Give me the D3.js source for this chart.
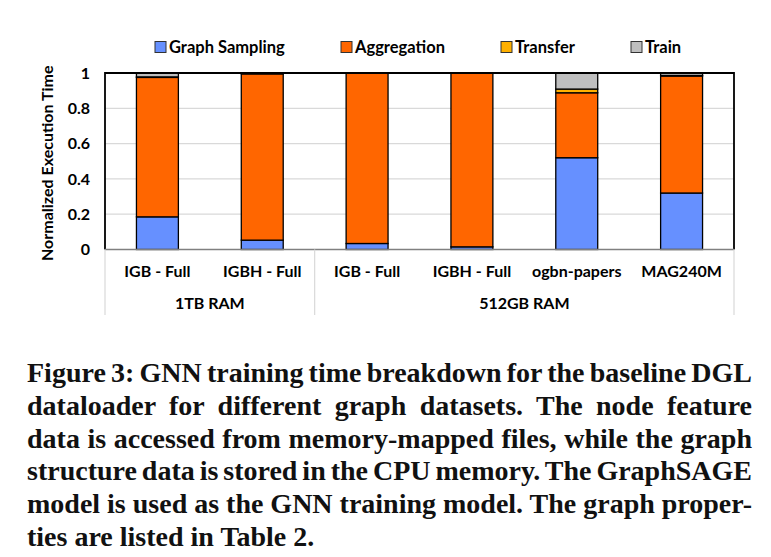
<!DOCTYPE html>
<html>
<head>
<meta charset="utf-8">
<script src="https://cdn.jsdelivr.net/npm/d3@7"></script>
<style>
  html, body { margin: 0; padding: 0; background: #fff; }
  svg { display: block; }
</style>
</head>
<body>
<svg id="chart" width="771" height="557"></svg>
<script>
// ---------------- data ----------------
const categories = ["IGB - Full", "IGBH - Full", "IGB - Full", "IGBH - Full", "ogbn-papers", "MAG240M"];
const groups = ["1TB RAM", "512GB RAM"];
const groupSizes = [2, 4];
const seriesNames = ["Graph Sampling", "Aggregation", "Transfer", "Train"];
const sampling    = [0.185, 0.053, 0.034, 0.015, 0.520, 0.320];
const aggregation = [0.790, 0.942, 0.966, 0.985, 0.368, 0.663];
const transfer    = [0.003, 0.000, 0.000, 0.000, 0.021, 0.003];
const train       = [0.022, 0.005, 0.000, 0.000, 0.091, 0.014];
const yTicks = [0, 0.2, 0.4, 0.6, 0.8, 1];
const yTickLabels = ["0", "0.2", "0.4", "0.6", "0.8", "1"];
const yTitle = "Normalized Execution Time";
const captionLines = [
  "Figure 3: GNN training time breakdown for the baseline DGL",
  "dataloader for different graph datasets. The node feature",
  "data is accessed from memory-mapped files, while the graph",
  "structure data is stored in the CPU memory. The GraphSAGE",
  "model is used as the GNN training model. The graph proper-",
  "ties are listed in Table 2."
];

// ---------------- styles ----------------
const colors = ["#6690FF", "#FF6600", "#FFB000", "#BFBFBF"];
const font = "Lato, 'Open Sans', sans-serif";
const serif = "'Liberation Serif', 'Times New Roman', serif";

const svg = d3.select("#chart");
const plot = { left: 105, right: 734, top: 73, bottom: 249.5 };

const x = d3.scaleBand()
  .domain(d3.range(categories.length))
  .range([plot.left, plot.right])
  .paddingInner(0.6).paddingOuter(0.3);
const y = d3.scaleLinear().domain([0, 1]).range([plot.bottom, plot.top]);

// gridlines
svg.append("g").selectAll("line").data(yTicks.filter(d => d > 0 && d < 1)).join("line")
  .attr("x1", plot.left).attr("x2", plot.right)
  .attr("y1", d => y(d)).attr("y2", d => y(d))
  .attr("stroke", "#d9d9d9").attr("stroke-width", 1.2);

// stacked bars
const rows = categories.map((c, i) => ({
  i, "Graph Sampling": sampling[i], "Aggregation": aggregation[i],
  "Transfer": transfer[i], "Train": train[i]
}));
const stacked = d3.stack().keys(seriesNames)(rows);
svg.append("g").selectAll("g").data(stacked).join("g")
  .attr("fill", (d, k) => colors[k])
  .selectAll("rect").data(d => d.filter(p => p[1] - p[0] > 0)).join("rect")
  .attr("x", d => x(d.data.i))
  .attr("width", x.bandwidth())
  .attr("y", d => y(d[1]))
  .attr("height", d => y(d[0]) - y(d[1]))
  .attr("stroke", "#000").attr("stroke-width", 1.3);

// plot frame
svg.append("path")
  .attr("d", `M${plot.left},${plot.bottom}V${plot.top}H${plot.right}V${plot.bottom}`)
  .attr("fill", "none").attr("stroke", "#000").attr("stroke-width", 1.8);
svg.append("line")
  .attr("x1", plot.left).attr("x2", plot.right)
  .attr("y1", plot.bottom).attr("y2", plot.bottom)
  .attr("stroke", "#808080").attr("stroke-width", 1.6);

// y axis tick labels
svg.append("g").selectAll("text").data(yTicks).join("text")
  .attr("x", 90).attr("y", d => y(d)).attr("dy", "0.35em")
  .attr("text-anchor", "end")
  .attr("font-family", font).attr("font-weight", 700).attr("font-size", 16)
  .text((d, i) => yTickLabels[i]);

// y title
svg.append("text")
  .attr("transform", `translate(53,${(plot.top + plot.bottom) / 2 + 2}) rotate(-90)`)
  .attr("text-anchor", "middle")
  .attr("font-family", font).attr("font-weight", 700).attr("font-size", 16)
  .text(yTitle);

// category labels
svg.append("g").selectAll("text").data(categories).join("text")
  .attr("x", (d, i) => x(i) + x.bandwidth() / 2).attr("y", 277)
  .attr("text-anchor", "middle")
  .attr("font-family", font).attr("font-weight", 700).attr("font-size", 16)
  .text(d => d);

// group separators and labels
const step = x.step();
let acc = 0;
const bounds = [plot.left];
groupSizes.forEach(n => { acc += n; bounds.push(plot.left + acc * step); });
bounds[bounds.length - 1] = plot.right;
svg.append("g").selectAll("line").data(bounds).join("line")
  .attr("x1", d => d).attr("x2", d => d)
  .attr("y1", plot.bottom).attr("y2", 315)
  .attr("stroke", "#d9d9d9").attr("stroke-width", 1.2);
svg.append("g").selectAll("text").data(groups).join("text")
  .attr("x", (d, i) => (bounds[i] + bounds[i + 1]) / 2).attr("y", 309)
  .attr("text-anchor", "middle")
  .attr("font-family", font).attr("font-weight", 700).attr("font-size", 16)
  .text(d => d);

// legend
const legendX = [155, 341, 501, 631];
const lg = svg.append("g").selectAll("g").data(seriesNames).join("g")
  .attr("transform", (d, i) => `translate(${legendX[i]},47)`);
lg.append("rect").attr("x", 0).attr("y", -5.5).attr("width", 11).attr("height", 11)
  .attr("fill", (d, i) => colors[i]).attr("stroke", "#333").attr("stroke-width", 1);
lg.append("text").attr("x", 14).attr("dy", "0.36em")
  .attr("font-family", font).attr("font-weight", 700).attr("font-size", 16.5)
  .text(d => d);

// caption (justified)
const capLeft = 27, capRight = 752, capTop = 382, capLead = 32.8;
captionLines.forEach((line, i) => {
  const t = svg.append("text")
    .attr("x", capLeft).attr("y", capTop + i * capLead)
    .attr("font-family", serif).attr("font-weight", 700).attr("font-size", 28)
    .attr("fill", "#111")
    .text(line);
  if (i < captionLines.length - 1) {
    const w = t.node().getComputedTextLength();
    const spaces = (line.match(/ /g) || []).length;
    if (spaces > 0) t.attr("word-spacing", (capRight - capLeft - w) / spaces);
  }
});
</script>
</body>
</html>
